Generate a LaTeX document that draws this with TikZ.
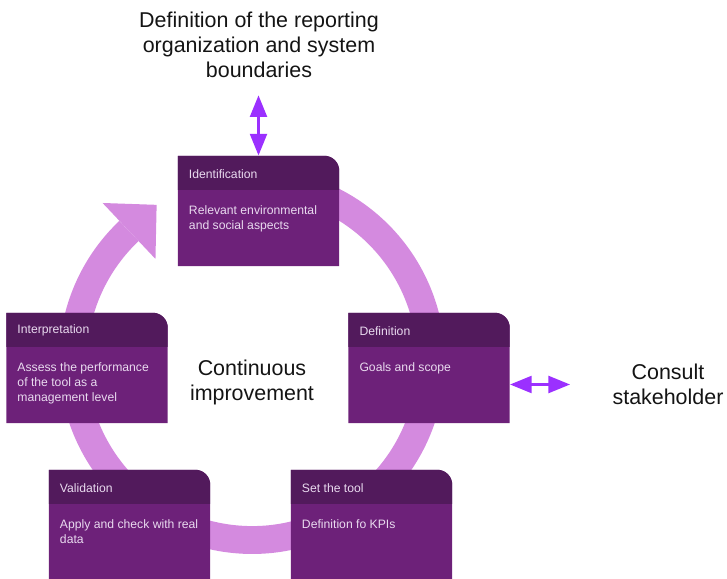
\documentclass[tikz,border=0pt]{standalone}
\usepackage{fontspec}
\setmainfont{Liberation Sans}
\usetikzlibrary{calc,arrows.meta,positioning}

\definecolor{headpurple}{HTML}{521A5C}
\definecolor{bodypurple}{HTML}{6D2179}
\definecolor{ringpink}{HTML}{D48ADF}
\definecolor{arrowviolet}{HTML}{9B30FF}
\definecolor{cardtext}{HTML}{E9DAEF}

\tikzset{
  cardframe/.style={minimum width=4.83cm, minimum height=3.3cm, inner sep=0pt},
  cardtitle/.style={anchor=west, inner sep=0pt, text=cardtext, font=\fontsize{10.4}{12.8}\selectfont},
  cardbody/.style={anchor=north west, inner sep=0pt, align=left, text=cardtext, font=\fontsize{10.4}{12.8}\selectfont},
  bigtext/.style={align=center, inner sep=0pt, text=black!92, font=\fontsize{18.3}{21.3}\selectfont},
  twoway/.style={arrowviolet, line width=3.4pt, {Triangle[length=18.7pt,width=14pt]}-{Triangle[length=18.7pt,width=14pt]}},
  ringband/.style={ringpink, line width=23.8pt}
}

% one step of the cycle: name, centre, title, body
\newcommand{\stepcard}[4]{%
  \node[cardframe] (#1) at (#2) {};
  \fill[bodypurple] (#1.south west) -- (#1.north west) -- ($(#1.north east)+(-15,0)$)
    arc[start angle=90, end angle=0, radius=15] -- (#1.south east) -- cycle;
  \fill[headpurple] ($(#1.north west)+(0,-34)$) -- (#1.north west) -- ($(#1.north east)+(-15,0)$)
    arc[start angle=90, end angle=0, radius=15] -- ($(#1.north east)+(0,-34)$) -- cycle;
  \node[cardtitle] (#1-title) at ($(#1.north west)+(11,-18)$) {#3};
  \node[cardbody] (#1-body) at ($(#1.north west)+(11,-50)$) {#4};
}

\begin{document}
\begin{tikzpicture}[x=0.03cm,y=0.03cm]
  \useasboundingbox (0,0) rectangle (727,578);
  \clip (0,0) rectangle (727,578);

  % cycle ring with its arrow head
  \coordinate (hub) at (252,217);
  \draw[ringband] ($(hub)+(80:179)$) arc[start angle=80, end angle=-226.6, radius=179];
  \fill[ringpink] ($(hub)+(133.4:140.5)$) -- ($(hub)+(133.4:217.5)$)
    -- ($(hub)+(133.4:179)+(43.4:38)$) -- cycle;

  % steps
  \stepcard{ident}{258.5,367}{Identification}{Relevant environmental\\and social aspects}
  \stepcard{interp}{87,210}{Interpretation}{Assess the performance\\of the tool as a\\management level}
  \stepcard{defn}{429,210}{Definition}{Goals and scope}
  \stepcard{valid}{129.5,53}{Validation}{Apply and check with real\\data}
  \stepcard{settool}{371.5,53}{Set the tool}{Definition fo KPIs}

  % texts round the cycle
  \node[bigtext] (boundary) at (259,533) {Definition of the reporting\\organization and system\\boundaries};
  \node[bigtext] (improve) at (252,195.5) {Continuous\\improvement};
  \node[bigtext] (consult) at (668,193.5) {Consult\\stakeholder};

  \draw[twoway, shorten <=0.51cm] (ident.north |- boundary.south) -- (ident.north);
  \draw[twoway, shorten >=1.26cm] (defn.east |- consult.west) -- (consult.west);
\end{tikzpicture}
\end{document}
